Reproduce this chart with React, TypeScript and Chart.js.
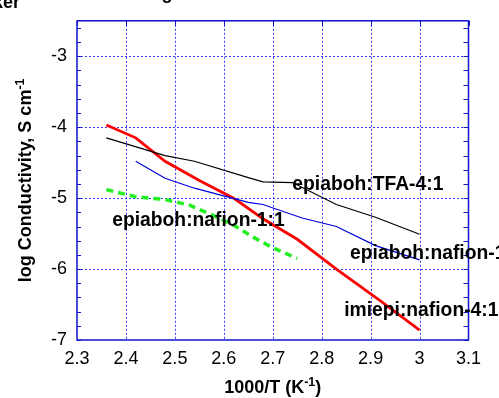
import React, { useEffect, useRef } from "react";
import { Chart, registerables } from "chart.js";

Chart.register(...registerables);

// Series data (1000/T, log conductivity)
const imiepiX = [2.36, 2.42, 2.48, 2.55, 2.62, 2.68, 2.75, 2.83, 2.92, 3.0];
const imiepiY = [-3.97, -4.15, -4.48, -4.75, -5.0, -5.29, -5.58, -6.0, -6.45, -6.86];

const tfaX = [2.36, 2.48, 2.54, 2.65, 2.68, 2.74, 2.83, 2.91, 3.0];
const tfaY = [-4.15, -4.4, -4.48, -4.71, -4.77, -4.78, -5.09, -5.27, -5.51];

const nafionBlueX = [2.42, 2.48, 2.54, 2.65, 2.68, 2.76, 2.83, 2.91, 3.0];
const nafionBlueY = [-4.48, -4.72, -4.86, -5.06, -5.09, -5.28, -5.4, -5.67, -5.87];

const nafionGreenX = [2.36, 2.42, 2.48, 2.53, 2.58, 2.62, 2.66, 2.7, 2.75];
const nafionGreenY = [-4.88, -4.98, -5.02, -5.1, -5.25, -5.38, -5.55, -5.7, -5.85];

// Annotation labels (data coordinates of left edge / vertical middle)
const labelTexts = ["epiaboh:TFA-4:1", "epiaboh:nafion-1:1", "epiaboh:nafion-1:1", "imiepi:nafion-4:1"];
const labelX = [2.74, 2.372, 2.858, 2.846];
const labelY = [-4.817, -5.317, -5.78, -6.586];

const xMin = 2.3, xMax = 3.1, xStep = 0.1;
const yMin = -7, yMax = -2.5, yStep = 1, yMinorStep = 0.2;

const zip = (xs: number[], ys: number[]) => xs.map((x, i) => ({ x, y: ys[i] }));

const decorPlugin = {
  id: "decor",
  beforeDatasetsDraw(chart: any) {
    const { ctx, chartArea: a, scales } = chart;
    const xs = scales.x, ys = scales.y;
    ctx.save();
    // dotted grid
    ctx.strokeStyle = "#3a3aff";
    ctx.lineWidth = 1;
    ctx.setLineDash([2, 2]);
    for (let v = xMin + xStep; v < xMax - 1e-6; v += xStep) {
      const px = Math.round(xs.getPixelForValue(v)) + 0.5;
      ctx.beginPath(); ctx.moveTo(px, a.top); ctx.lineTo(px, a.bottom); ctx.stroke();
    }
    for (let v = -6; v <= -3; v += yStep) {
      const py = Math.round(ys.getPixelForValue(v)) + 0.5;
      ctx.beginPath(); ctx.moveTo(a.left, py); ctx.lineTo(a.right, py); ctx.stroke();
    }
    ctx.setLineDash([]);
    // minor ticks on y (inside, both sides)
    ctx.strokeStyle = "#1515d0";
    for (let v = yMin; v <= yMax + 1e-6; v += yMinorStep) {
      const py = Math.round(ys.getPixelForValue(v)) + 0.5;
      ctx.beginPath(); ctx.moveTo(a.left, py); ctx.lineTo(a.left + 4, py); ctx.stroke();
      ctx.beginPath(); ctx.moveTo(a.right, py); ctx.lineTo(a.right - 5, py); ctx.stroke();
    }
    // top ticks on x
    for (let v = xMin; v <= xMax + 1e-6; v += xStep) {
      const px = Math.round(xs.getPixelForValue(v)) + 0.5;
      ctx.beginPath(); ctx.moveTo(px, a.top); ctx.lineTo(px, a.top + 5); ctx.stroke();
    }
    // frame
    ctx.strokeStyle = "#1010d0";
    ctx.lineWidth = 1.5;
    ctx.strokeRect(a.left, a.top, a.right - a.left, a.bottom - a.top);
    ctx.restore();
  },
  afterDatasetsDraw(chart: any) {
    const { ctx, chartArea: a, scales } = chart;
    const xs = scales.x, ys = scales.y;
    ctx.save();
    ctx.fillStyle = "#000";
    ctx.font = "bold 19.3px Arial, 'Liberation Sans', sans-serif";
    ctx.textBaseline = "middle";
    ctx.textAlign = "left";
    labelTexts.forEach((t, i) => {
      ctx.fillText(t, xs.getPixelForValue(labelX[i]), ys.getPixelForValue(labelY[i]));
    });

    // axis titles with superscript
    ctx.textBaseline = "alphabetic";
    const big = "bold 18px Arial, 'Liberation Sans', sans-serif";
    const small = "bold 12.5px Arial, 'Liberation Sans', sans-serif";
    const drawSup = (main: string, sup: string, tail: string, cx: number, baseY: number) => {
      ctx.font = big; const w1 = ctx.measureText(main).width; const w3 = ctx.measureText(tail).width;
      ctx.font = small; const w2 = ctx.measureText(sup).width;
      let x = cx - (w1 + w2 + w3) / 2;
      ctx.textAlign = "left";
      ctx.font = big; ctx.fillText(main, x, baseY); x += w1;
      ctx.font = small; ctx.fillText(sup, x, baseY - 7); x += w2;
      ctx.font = big; ctx.fillText(tail, x, baseY);
    };
    const cx = (a.left + a.right) / 2;
    drawSup("1000/T (K", "-1", ")", cx, 393);
    ctx.save();
    ctx.translate(31, (a.top + a.bottom) / 2);
    ctx.rotate(-Math.PI / 2);
    drawSup("log Conductivity, S cm", "-1", "", 0, 0);
    ctx.restore();

    // clipped title fragments at the top
    ctx.font = big;
    ctx.textAlign = "right";
    ctx.fillText("Marker", 20, 8);
    ctx.textAlign = "center";
    ctx.fillText("g", 167, -1);
    ctx.restore();
  },
};

export default function App() {
  const ref = useRef<HTMLCanvasElement | null>(null);
  useEffect(() => {
    if (!ref.current) return;
    const fmt = (v: any) => String(Number(Number(v).toFixed(1)));
    const chart = new Chart(ref.current, {
      type: "line",
      data: {
        datasets: [
          { label: "epiaboh:TFA-4:1", data: zip(tfaX, tfaY), borderColor: "#000000", borderWidth: 1.2, pointRadius: 0, fill: false, tension: 0 },
          { label: "epiaboh:nafion (blue)", data: zip(nafionBlueX, nafionBlueY), borderColor: "#0000dd", borderWidth: 1.2, pointRadius: 0, fill: false, tension: 0 },
          { label: "epiaboh:nafion-1:1", data: zip(nafionGreenX, nafionGreenY), borderColor: "#22ee22", borderWidth: 3.5, borderDash: [7, 5], pointRadius: 0, fill: false, tension: 0 },
          { label: "imiepi:nafion-4:1", data: zip(imiepiX, imiepiY), borderColor: "#ff0000", borderWidth: 2.8, pointRadius: 0, fill: false, tension: 0 },
        ],
      },
      options: {
        animation: false,
        responsive: false,
        events: [],
        layout: { padding: { left: 0, right: 30.5, top: 13.5, bottom: 0 } },
        plugins: { legend: { display: false }, tooltip: { enabled: false }, title: { display: false } },
        scales: {
          x: {
            type: "linear",
            min: xMin,
            max: xMax,
            afterFit: (s: any) => { s.height = 58; },
            grid: { display: false, drawTicks: false },
            border: { display: false },
            ticks: {
              stepSize: xStep,
              padding: 8,
              color: "#000",
              font: { size: 18, family: "Arial, 'Liberation Sans', sans-serif" },
              callback: fmt,
              maxRotation: 0,
              autoSkip: false,
            },
          },
          y: {
            type: "linear",
            min: yMin,
            max: yMax,
            afterFit: (s: any) => { s.width = 77; },
            grid: { display: false, drawTicks: false },
            border: { display: false },
            ticks: {
              stepSize: yStep,
              includeBounds: false,
              padding: 10,
              color: "#000",
              font: { size: 18, family: "Arial, 'Liberation Sans', sans-serif" },
              callback: fmt,
            },
          },
        },
      },
      plugins: [decorPlugin],
    } as any);
    return () => chart.destroy();
  }, []);
  return (
    <div style={{ position: "fixed", left: 0, top: 0, width: 499, height: 398, background: "#fff" }}>
      <canvas ref={ref} width={499} height={398} style={{ width: 499, height: 398, display: "block" }} />
    </div>
  );
}
